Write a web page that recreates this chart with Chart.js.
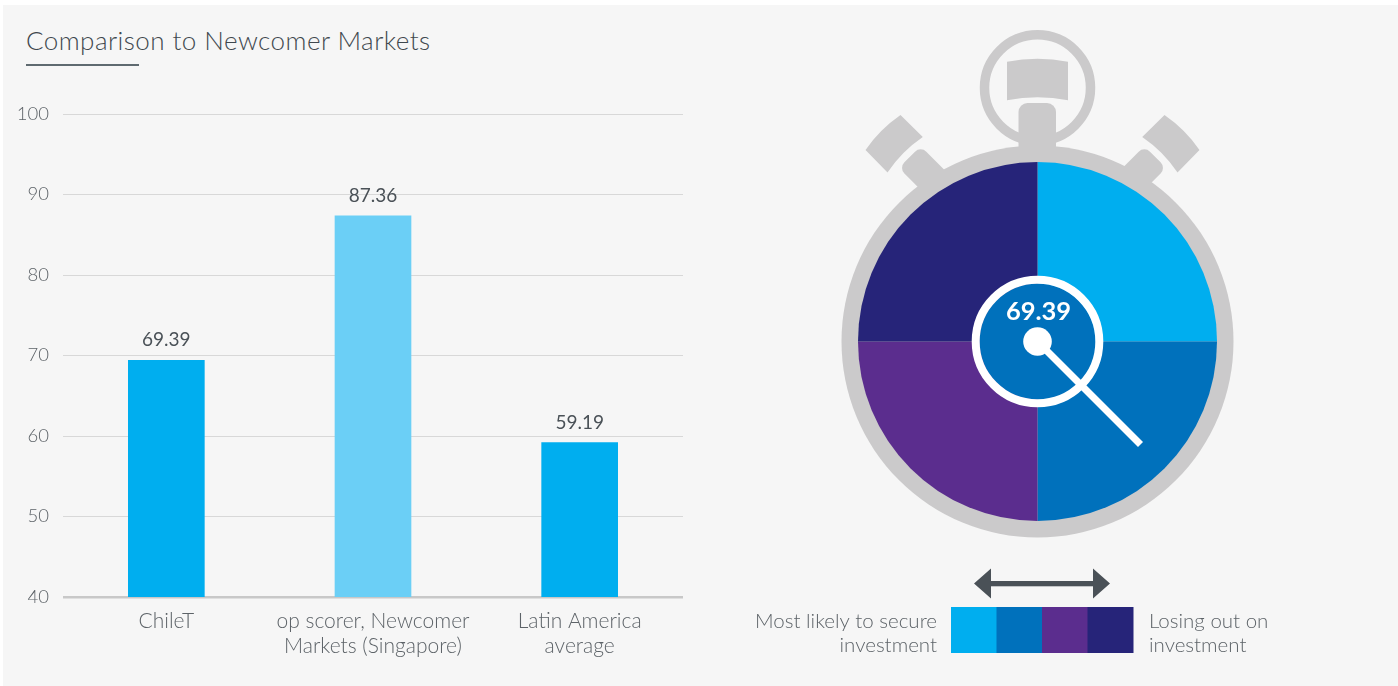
<!DOCTYPE html>
<html>
<head>
<meta charset="utf-8">
<title>Comparison to Newcomer Markets</title>
<script src="https://cdn.jsdelivr.net/npm/chart.js@4"></script>
<style>
  html, body { margin: 0; padding: 0; background: #fff; overflow: hidden; }
  #page { position: relative; width: 1398px; height: 686px; font-family: Lato, sans-serif; }
  #panel { position: absolute; left: 3px; top: 5px; right: 0; bottom: 0; background: #f6f6f6; }
  #title { position: absolute; left: 26px; top: 25px; margin: 0; font-size: 26px; line-height: 30px; font-weight: 300; color: #3f484e; white-space: nowrap; letter-spacing: 0.45px; }
  #rule { position: absolute; left: 26px; top: 64px; width: 113px; height: 1.5px; background: #5f6a70; }
  #barCanvasWrap { position: absolute; left: 0; top: 0; width: 700px; height: 686px; }
  #watchCanvasWrap { position: absolute; left: 700px; top: 0; width: 698px; height: 686px; }
</style>
</head>
<body>
<div id="page">
  <div id="panel"></div>
  <h2 id="title">Comparison to Newcomer Markets</h2>
  <div id="rule"></div>
  <div id="barCanvasWrap"><canvas id="barChart"></canvas></div>
  <div id="watchCanvasWrap"><canvas id="watchChart"></canvas></div>
</div>
<script>
// data
const categories = ['ChileT', ['op scorer, Newcomer', 'Markets (Singapore)'], ['Latin America', 'average']];
const scores = [69.39, 87.36, 59.19];
const barColors = ['#00aeef', '#6bcff6', '#00aeef'];
const quadrants = [25, 25, 25, 25];
const quadrantColors = ['#00aeef', '#0071bc', '#5b2d8e', '#262479'];
const gaugeValue = '69.39';
const legendLeft = ['Most likely to secure', 'investment'];
const legendRight = ['Losing out on', 'investment'];

const GREY = '#cbcacb';
const TEXT = '#5d6368';
const FONT = 'Lato, sans-serif';

// value labels above the bars
const barLabels = {
    id: 'barLabels',
    afterDatasetsDraw(chart) {
        const { ctx } = chart;
        const meta = chart.getDatasetMeta(0);
        ctx.save();
        ctx.font = '400 19px ' + FONT;
        ctx.fillStyle = '#4a5157';
        ctx.textAlign = 'center';
        ctx.textBaseline = 'alphabetic';
        meta.data.forEach((bar, i) => {
            ctx.fillText(scores[i].toFixed(2), bar.x, bar.y - 14);
        });
        ctx.restore();
    }
};

new Chart(document.getElementById('barChart'), {
    type: 'bar',
    data: {
        labels: categories,
        datasets: [{ data: scores, backgroundColor: barColors, barThickness: 76, borderWidth: 0 }]
    },
    options: {
        responsive: true,
        maintainAspectRatio: false,
        animation: false,
        layout: { autoPadding: false, padding: { top: 114, right: 17, left: 0, bottom: 0 } },
        plugins: { legend: { display: false }, tooltip: { enabled: false }, title: { display: false } },
        scales: {
            x: {
                afterFit(s) { s.height = 89; },
                grid: { display: false },
                border: { display: false },
                ticks: { color: TEXT, font: { family: FONT, size: 21, weight: '300', lineHeight: 1.19 }, padding: 4, maxRotation: 0, autoSkip: false }
            },
            y: {
                min: 40,
                max: 100,
                afterFit(s) { s.width = 63; },
                grid: {
                    color: c => (c.tick.value === 40 ? '#c8c8c8' : '#d8d8d8'),
                    lineWidth: c => (c.tick.value === 40 ? 2.5 : 1),
                    drawTicks: false
                },
                border: { display: false },
                ticks: { stepSize: 10, color: TEXT, font: { family: FONT, size: 18.5, weight: '300' }, padding: 14 }
            }
        }
    },
    plugins: [barLabels]
});

// grey stopwatch body, drawn behind the pie
function drawBody(ctx, cx, cy, r) {
    ctx.fillStyle = GREY;
    ctx.strokeStyle = GREY;

    // case
    ctx.beginPath();
    ctx.arc(cx, cy, r + 16.5, 0, Math.PI * 2);
    ctx.fill();

    // top ring
    ctx.lineWidth = 9.5;
    ctx.beginPath();
    ctx.arc(cx, cy - 253.7, 53, 0, Math.PI * 2);
    ctx.stroke();

    // crown
    ctx.beginPath();
    ctx.moveTo(cx - 30.5, cy - 279.7);
    ctx.quadraticCurveTo(cx, cy - 285.7, cx + 30.5, cy - 279.7);
    ctx.lineTo(cx + 30.5, cy - 241.2);
    ctx.quadraticCurveTo(cx, cy - 247.2, cx - 30.5, cy - 241.2);
    ctx.closePath();
    ctx.fill();

    // stem
    ctx.beginPath();
    ctx.roundRect(cx - 19, cy - 238.5, 37.5, 60, [9, 9, 0, 0]);
    ctx.fill();

    // side buttons, the left pair sits a little closer to the stem
    [1, -1].forEach(side => {
        ctx.save();
        ctx.translate(side === 1 ? cx : cx - 10, cy);
        ctx.scale(side, 1);

        ctx.save();
        ctx.translate(117.8, -184.5);
        ctx.rotate(Math.PI / 4);
        ctx.beginPath();
        ctx.roundRect(-15.5, 0, 31, 44, [8, 8, 0, 0]);
        ctx.fill();
        ctx.restore();

        ctx.beginPath();
        ctx.moveTo(104.7, -204.5);
        ctx.lineTo(127, -226.5);
        ctx.quadraticCurveTo(148, -212, 162, -191.5);
        ctx.lineTo(140, -169);
        ctx.quadraticCurveTo(126, -190, 104.7, -204.5);
        ctx.closePath();
        ctx.fill();
        ctx.restore();
    });
}

// hub, needle and value on top of the pie
function drawDial(ctx, cx, cy) {
    ctx.fillStyle = quadrantColors[1];
    ctx.beginPath();
    ctx.arc(cx, cy, 58, 0, Math.PI * 2);
    ctx.fill();

    ctx.strokeStyle = '#fff';
    ctx.lineWidth = 8;
    ctx.beginPath();
    ctx.arc(cx, cy, 61.8, 0, Math.PI * 2);
    ctx.stroke();

    ctx.lineWidth = 7;
    ctx.beginPath();
    ctx.moveTo(cx, cy);
    ctx.lineTo(cx + 103, cy + 103);
    ctx.stroke();

    ctx.fillStyle = '#fff';
    ctx.beginPath();
    ctx.arc(cx, cy, 14.3, 0, Math.PI * 2);
    ctx.fill();

    ctx.font = '700 25.5px ' + FONT;
    ctx.textAlign = 'center';
    ctx.textBaseline = 'alphabetic';
    ctx.fillText(gaugeValue, cx + 1, cy - 21.5);
}

// scale key under the watch
function drawKey(ctx) {
    const x0 = 251, y0 = 607, w = 45.5, h = 46;
    quadrantColors.forEach((c, i) => {
        ctx.fillStyle = c;
        ctx.fillRect(x0 + i * w, y0, w + 0.5, h);
    });

    ctx.fillStyle = '#4a5157';
    ctx.fillRect(290, 581, 104, 5.3);
    ctx.beginPath();
    ctx.moveTo(274, 583.5); ctx.lineTo(291, 568.5); ctx.lineTo(291, 598.5); ctx.closePath();
    ctx.moveTo(410, 583.5); ctx.lineTo(393, 568.5); ctx.lineTo(393, 598.5); ctx.closePath();
    ctx.fill();

    ctx.fillStyle = TEXT;
    ctx.font = '300 20.5px ' + FONT;
    ctx.textBaseline = 'alphabetic';
    ctx.textAlign = 'right';
    legendLeft.forEach((t, i) => ctx.fillText(t, 237, 628 + i * 24));
    ctx.textAlign = 'left';
    legendRight.forEach((t, i) => ctx.fillText(t, 449, 628 + i * 24));
}

const stopwatch = {
    id: 'stopwatch',
    beforeDatasetsDraw(chart) {
        const arc = chart.getDatasetMeta(0).data[0];
        chart.ctx.save();
        drawBody(chart.ctx, arc.x, arc.y, arc.outerRadius);
        chart.ctx.restore();
    },
    afterDatasetsDraw(chart) {
        const arc = chart.getDatasetMeta(0).data[0];
        chart.ctx.save();
        drawDial(chart.ctx, arc.x, arc.y);
        drawKey(chart.ctx);
        chart.ctx.restore();
    }
};

new Chart(document.getElementById('watchChart'), {
    type: 'pie',
    data: {
        labels: quadrantColors,
        datasets: [{ data: quadrants, backgroundColor: quadrantColors, borderWidth: 0 }]
    },
    options: {
        responsive: true,
        maintainAspectRatio: false,
        animation: false,
        layout: { padding: { left: 158, right: 181, top: 162, bottom: 165 } },
        plugins: { legend: { display: false }, tooltip: { enabled: false } }
    },
    plugins: [stopwatch]
});
</script>
</body>
</html>
